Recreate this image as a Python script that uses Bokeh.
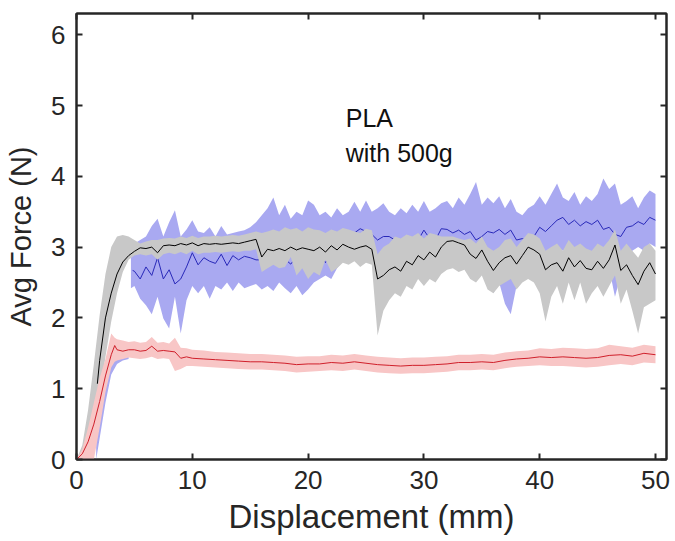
from bokeh.plotting import figure
from bokeh.models import LinearAxis, FixedTicker, Range1d, Label
from bokeh.embed import file_html
from bokeh.resources import INLINE

# ---------------- data ----------------
# Gray band (black-line sample), x = 0 .. 50 mm every 0.5 mm
gray_x = [0, 0.5, 1, 1.5, 2, 2.5, 3, 3.5, 4, 4.5,
          5, 5.5, 6, 6.5, 7, 7.5, 8, 8.5, 9, 9.5,
          10, 10.5, 11, 11.5, 12, 12.5, 13, 13.5, 14, 14.5,
          15, 15.5, 16, 16.5, 17, 17.5, 18, 18.5, 19, 19.5,
          20, 20.5, 21, 21.5, 22, 22.5, 23, 23.5, 24, 24.5,
          25, 25.5, 26, 26.5, 27, 27.5, 28, 28.5, 29, 29.5,
          30, 30.5, 31, 31.5, 32, 32.5, 33, 33.5, 34, 34.5,
          35, 35.5, 36, 36.5, 37, 37.5, 38, 38.5, 39, 39.5,
          40, 40.5, 41, 41.5, 42, 42.5, 43, 43.5, 44, 44.5,
          45, 45.5, 46, 46.5, 47, 47.5, 48, 48.5, 49, 49.5,
          50]
gray_lo = [0, 0, 0.08, 0.4, 0.85, 1.45, 1.95, 2.35, 2.65, 2.82,
           2.88, 2.9, 2.88, 2.9, 2.82, 2.9, 2.92, 2.9, 2.93, 2.9,
           2.95, 2.9, 2.92, 2.92, 2.93, 2.92, 2.93, 2.94, 2.93, 2.95,
           2.95, 2.97, 2.65, 2.7, 2.75, 2.7, 2.72, 2.86, 2.6, 2.7,
           2.55, 2.65, 2.6, 2.82, 2.65, 2.7, 2.78, 2.75, 2.8, 2.72,
           2.78, 2.75, 1.75, 2.1, 2.25, 2.35, 2.3, 2.45, 2.4, 2.55,
           2.45, 2.55, 2.5, 2.62, 2.68, 2.7, 2.65, 2.68, 2.55, 2.5,
           2.6, 2.4, 2.35, 2.45, 2.5, 2.55, 2.4, 2.5, 2.55, 2.5,
           2.35, 1.95, 2.3, 2.45, 2.2, 2.5, 2.25, 2.5, 2.2, 2.35,
           2.45, 2.3, 2.45, 2.6, 2.2, 2.4, 2.1, 1.78, 2.15, 2.2,
           2.25]
gray_hi = [0, 0.2, 0.7, 1.35, 2.04, 2.62, 3.0, 3.15, 3.17, 3.15,
           3.1, 3.05, 3.08, 3.1, 3.1, 3.12, 3.13, 3.12, 3.15, 3.13,
           3.16, 3.13, 3.15, 3.15, 3.16, 3.15, 3.16, 3.17, 3.16, 3.18,
           3.2, 3.22, 3.2, 3.22, 3.25, 3.22, 3.28, 3.25, 3.27, 3.22,
           3.28, 3.25, 3.24, 3.2, 3.25, 3.22, 3.27, 3.25, 3.22, 3.2,
           3.26, 3.24, 2.9, 3.0, 3.05, 3.15, 3.12, 3.18, 3.15, 3.2,
           3.12, 3.2, 3.18, 3.15, 3.15, 3.15, 3.12, 3.1, 3.12, 3.05,
           3.15, 3.0, 2.95, 3.0, 3.1, 3.12, 3.0, 3.1, 3.2, 3.18,
           3.12, 2.95, 3.0, 3.05, 2.95, 3.1, 3.0, 3.05, 2.98, 2.95,
           3.05, 3.0, 3.1, 3.25, 2.95, 3.05, 2.95, 2.85, 3.0, 3.05,
           2.95]

# Black mean line
black_x = [1.8, 2, 2.5, 3, 3.5, 4, 4.5,
           5, 5.5, 6, 6.5, 7, 7.5, 8, 8.5, 9, 9.5,
           10, 10.5, 11, 11.5, 12, 12.5, 13, 13.5, 14, 14.5,
           15, 15.5, 16, 16.5, 17, 17.5, 18, 18.5, 19, 19.5,
           20, 20.5, 21, 21.5, 22, 22.5, 23, 23.5, 24, 24.5,
           25, 25.5, 26, 26.5, 27, 27.5, 28, 28.5, 29, 29.5,
           30, 30.5, 31, 31.5, 32, 32.5, 33, 33.5, 34, 34.5,
           35, 35.5, 36, 36.5, 37, 37.5, 38, 38.5, 39, 39.5,
           40, 40.5, 41, 41.5, 42, 42.5, 43, 43.5, 44, 44.5,
           45, 45.5, 46, 46.5, 47, 47.5, 48, 48.5, 49, 49.5,
           50]
black_y = [1.07, 1.4, 2.0, 2.35, 2.62, 2.79, 2.88,
           2.94, 2.99, 2.98, 3.0, 2.92, 3.02, 3.03, 3.02, 3.05, 3.03,
           3.06, 3.02, 3.05, 3.04, 3.05, 3.04, 3.05, 3.06, 3.05, 3.07,
           3.09, 3.11, 2.86, 2.97, 2.95, 2.98, 2.95, 3.0, 2.96, 2.99,
           2.97, 2.95, 3.0, 2.93, 3.02, 2.96, 3.04, 3.0, 2.97, 3.0,
           3.02, 2.97, 2.55, 2.6, 2.68, 2.72, 2.66, 2.8, 2.75, 2.88,
           2.82, 2.93, 2.86, 3.0, 3.08, 3.09, 3.06, 3.03, 2.9, 2.84,
           2.96, 2.8, 2.67, 2.78, 2.85, 2.88, 2.76, 2.88, 3.0, 2.96,
           2.9, 2.68, 2.75, 2.78, 2.66, 2.85, 2.72, 2.81, 2.7, 2.68,
           2.8, 2.7, 2.82, 3.03, 2.67, 2.75, 2.6, 2.47, 2.66, 2.78,
           2.62]

# Blue band, early rise (mostly hidden under the pink and gray bands)
blue_early_x = [1.7, 2, 2.5, 3, 3.5, 4, 4.5]
blue_early_lo = [0, 0.3, 0.8, 1.2, 1.35, 1.4, 1.42]
blue_early_hi = [0.3, 0.9, 1.3, 1.55, 1.6, 1.62, 1.62]

# Blue band, main part
blue_band_x = [4.7,
               5, 5.5, 6, 6.5, 7, 7.5, 8, 8.5, 9, 9.5,
               10, 10.5, 11, 11.5, 12, 12.5, 13, 13.5, 14, 14.5,
               15, 15.5, 16, 16.5, 17, 17.5, 18, 18.5, 19, 19.5,
               20, 20.5, 21, 21.5, 22, 22.5, 23, 23.5, 24, 24.5,
               25, 25.5, 26, 26.5, 27, 27.5, 28, 28.5, 29, 29.5,
               30, 30.5, 31, 31.5, 32, 32.5, 33, 33.5, 34, 34.5,
               35, 35.5, 36, 36.5, 37, 37.5, 38, 38.5, 39, 39.5,
               40, 40.5, 41, 41.5, 42, 42.5, 43, 43.5, 44, 44.5,
               45, 45.5, 46, 46.5, 47, 47.5, 48, 48.5, 49, 49.5,
               50]
blue_lo = [2.42,
           2.45, 2.27, 2.18, 2.05, 2.3, 1.99, 1.85, 2.3, 1.78, 2.25,
           2.45, 2.35, 2.45, 2.27, 2.45, 2.4, 2.5, 2.38, 2.5, 2.42,
           2.45, 2.48, 2.4, 2.45, 2.38, 2.5, 2.42, 2.35, 2.45, 2.32,
           2.4, 2.5, 2.55, 2.6, 2.55, 2.7, 2.8, 2.85, 2.88, 2.9,
           2.9, 2.88, 2.85, 2.9, 2.9, 2.92, 2.9, 2.95, 2.92, 2.95,
           2.95, 2.92, 2.95, 2.9, 2.85, 2.82, 2.9, 2.85, 2.9, 2.75,
           2.85, 2.6, 2.35, 2.5, 2.2, 2.05, 2.45, 2.7, 2.8, 2.85,
           2.9, 2.85, 2.95, 3.0, 2.95, 3.0, 2.95, 2.9, 2.95, 2.9,
           3.0, 2.8, 2.7, 2.3, 2.6, 2.9, 2.95, 3.0, 2.95, 3.05,
           3.0]
blue_hi = [2.95,
           3.05, 3.1, 3.15, 3.3, 3.4, 3.15, 3.35, 3.52, 3.15, 3.25,
           3.38, 3.22, 3.2, 3.28, 3.15, 3.3, 3.18, 3.2, 3.22, 3.24,
           3.28, 3.35, 3.45, 3.55, 3.7, 3.45, 3.6, 3.4, 3.5, 3.45,
           3.66, 3.6, 3.45, 3.5, 3.42, 3.55, 3.45, 3.5, 3.64, 3.5,
           3.66, 3.5, 3.55, 3.62, 3.5, 3.45, 3.55, 3.48, 3.6, 3.5,
           3.65, 3.5, 3.55, 3.62, 3.65, 3.55, 3.7, 3.6, 3.75, 3.92,
           3.6, 3.7, 3.62, 3.72, 3.55, 3.68, 3.5, 3.45, 3.55, 3.6,
           3.72, 3.6, 3.75, 3.9, 3.7, 3.65, 3.78, 3.6, 3.72, 3.65,
           3.75, 3.97, 3.82, 3.9, 3.6, 3.65, 3.72, 3.55, 3.7, 3.8,
           3.75]

# Blue mean line
blue_x = [4.85,
          5, 5.5, 6, 6.5, 7, 7.5, 8, 8.5, 9, 9.5,
          10, 10.5, 11, 11.5, 12, 12.5, 13, 13.5, 14, 14.5,
          15, 15.5, 16, 16.5, 17, 17.5, 18, 18.5, 19, 19.5,
          20, 20.5, 21, 21.5, 22, 22.5, 23, 23.5, 24, 24.5,
          25, 25.5, 26, 26.5, 27, 27.5, 28, 28.5, 29, 29.5,
          30, 30.5, 31, 31.5, 32, 32.5, 33, 33.5, 34, 34.5,
          35, 35.5, 36, 36.5, 37, 37.5, 38, 38.5, 39, 39.5,
          40, 40.5, 41, 41.5, 42, 42.5, 43, 43.5, 44, 44.5,
          45, 45.5, 46, 46.5, 47, 47.5, 48, 48.5, 49, 49.5,
          50]
blue_y = [2.67,
          2.66, 2.55, 2.72, 2.6, 2.85, 2.55, 2.68, 2.48, 2.55, 2.72,
          2.92, 2.75, 2.85, 2.8, 2.77, 2.9, 2.74, 2.88, 2.82, 2.87,
          2.85, 2.82, 2.82, 2.85, 2.8, 2.88, 2.83, 2.76, 2.86, 2.9,
          2.85, 2.9, 2.88, 2.78, 2.95, 3.05, 3.1, 3.15, 3.2, 3.26,
          3.22, 3.18, 3.1, 3.15, 3.15, 3.1, 3.05, 3.1, 3.12, 3.1,
          3.24, 3.12, 3.1, 3.26, 3.25, 3.2, 3.24, 3.18, 3.22, 3.1,
          3.15, 3.22, 3.2, 3.25, 3.18, 3.24, 3.1, 3.12, 3.08, 3.15,
          3.28, 3.22, 3.3, 3.38, 3.42, 3.32, 3.38, 3.3, 3.36, 3.32,
          3.38, 3.25, 3.28, 3.18, 3.15, 3.28, 3.3, 3.36, 3.32, 3.42,
          3.38]

# Red band and mean line
red_x = [0, 0.5, 1, 1.5, 2, 2.5, 3, 3.3, 3.5, 4, 4.5, 5, 5.5, 6, 6.5,
         7, 7.5, 8, 8.5, 9, 9.5, 10,
         11, 12, 13, 14, 15, 16, 17, 18, 19, 20,
         21, 22, 23, 24, 25, 26, 27, 28, 29, 30,
         31, 32, 33, 34, 35, 36, 37, 38, 39, 40,
         41, 42, 43, 44, 45, 46, 47, 48, 49, 50]
red_y = [0, 0.08, 0.25, 0.5, 0.82, 1.18, 1.48, 1.61, 1.55, 1.53, 1.55, 1.55, 1.53, 1.54, 1.6,
         1.53, 1.54, 1.53, 1.52, 1.43, 1.45, 1.43,
         1.42, 1.41, 1.4, 1.39, 1.38, 1.38, 1.37, 1.36, 1.34, 1.35,
         1.35, 1.37, 1.36, 1.38, 1.36, 1.34, 1.33, 1.32, 1.33, 1.33,
         1.34, 1.35, 1.37, 1.37, 1.38, 1.37, 1.4, 1.42, 1.43, 1.45,
         1.44, 1.45, 1.44, 1.43, 1.44, 1.47, 1.48, 1.46, 1.5, 1.48]
red_lo = [0, 0, 0, 0, 0.45, 0.95, 1.3, 1.38, 1.4, 1.42, 1.44, 1.43, 1.42, 1.43, 1.45,
          1.42, 1.43, 1.42, 1.25, 1.28, 1.32, 1.32,
          1.31, 1.3, 1.29, 1.28, 1.27, 1.27, 1.26, 1.25, 1.23, 1.24,
          1.25, 1.26, 1.25, 1.27, 1.25, 1.23, 1.22, 1.21, 1.22, 1.22,
          1.23, 1.24, 1.26, 1.26, 1.27, 1.26, 1.29, 1.31, 1.32, 1.33,
          1.32, 1.32, 1.31, 1.3, 1.31, 1.33, 1.35, 1.33, 1.37, 1.36]
red_hi = [0, 0.15, 0.45, 0.8, 1.15, 1.42, 1.78, 1.72, 1.7, 1.68, 1.66, 1.67, 1.65, 1.66, 1.73,
          1.65, 1.66, 1.64, 1.72, 1.58, 1.57, 1.55,
          1.54, 1.52, 1.51, 1.5, 1.49, 1.49, 1.48, 1.47, 1.45, 1.46,
          1.46, 1.48, 1.47, 1.49, 1.47, 1.45, 1.44, 1.43, 1.44, 1.44,
          1.45, 1.46, 1.48, 1.48, 1.49, 1.48, 1.51, 1.53, 1.54, 1.57,
          1.56, 1.58, 1.57, 1.56, 1.57, 1.62, 1.6, 1.58, 1.62, 1.6]

x_ticks = [0, 10, 20, 30, 40, 50]
y_ticks = [0, 1, 2, 3, 4, 5, 6]
x_label = "Displacement (mm)"
y_label = "Avg Force (N)"
note_lines = ["PLA", "with 500g"]
note_x = 23.25
note_y = [4.83, 4.33]

# ---------------- figure ----------------
FONT = "Liberation Sans"
AX = "#262626"

p = figure(width=675, height=541, output_backend="svg", toolbar_location=None,
           x_range=Range1d(0, 50.95), y_range=Range1d(0, 6.3),
           min_border_left=76, min_border_right=9, min_border_top=13,
           min_border_bottom=82)
p.grid.visible = False
p.background_fill_color = "white"
p.border_fill_color = "white"
p.outline_line_color = AX
p.outline_line_width = 2

BLUE_FILL = "#a9a9f1"
# blue band + line (drawn underneath the gray band)
p.varea(x=blue_early_x, y1=blue_early_lo, y2=blue_early_hi, fill_color=BLUE_FILL)
p.varea(x=blue_band_x, y1=blue_lo, y2=blue_hi, fill_color=BLUE_FILL)
p.line(blue_x, blue_y, line_color="#2828b8", line_width=1)
# gray band + black line
p.varea(x=gray_x, y1=gray_lo, y2=gray_hi, fill_color="#c8c8c8")
p.line(black_x, black_y, line_color="#000000", line_width=1)
# red band + line
p.varea(x=red_x, y1=red_lo, y2=red_hi, fill_color="#f8c6c6")
p.line(red_x, red_y, line_color="#cf1f2a", line_width=1)

for i, t in enumerate(note_lines):
    p.add_layout(Label(x=note_x, y=note_y[i], text=t, text_font=FONT,
                       text_font_size="25px", text_color="#111111",
                       text_baseline="alphabetic"))


def style_axis(ax, labels=True):
    ax.axis_line_color = AX
    ax.axis_line_width = 2
    ax.major_tick_line_color = AX
    ax.major_tick_line_width = 2
    ax.major_tick_in = 6
    ax.major_tick_out = 0
    ax.minor_tick_line_color = None
    if labels:
        ax.major_label_text_font = FONT
        ax.major_label_text_font_size = "26px"
        ax.major_label_text_color = AX
        ax.axis_label_text_font = FONT
        ax.axis_label_text_font_style = "normal"
        ax.axis_label_text_color = AX
    else:
        ax.major_label_text_color = None
        ax.major_label_text_font_size = "1px"
        ax.major_label_standoff = 0


xa = p.xaxis[0]
ya = p.yaxis[0]
xa.ticker = FixedTicker(ticks=x_ticks)
ya.ticker = FixedTicker(ticks=y_ticks)
xa.axis_label = x_label
ya.axis_label = y_label
style_axis(xa)
style_axis(ya)
xa.axis_label_text_font_size = "33px"
ya.axis_label_text_font_size = "29px"
xa.major_label_standoff = 11
xa.axis_label_standoff = 6
ya.major_label_standoff = 11
ya.axis_label_standoff = 11

top = LinearAxis(ticker=FixedTicker(ticks=x_ticks))
right = LinearAxis(ticker=FixedTicker(ticks=y_ticks))
style_axis(top, labels=False)
style_axis(right, labels=False)
p.add_layout(top, "above")
p.add_layout(right, "right")

open("out.html", "w").write(file_html(p, INLINE))
